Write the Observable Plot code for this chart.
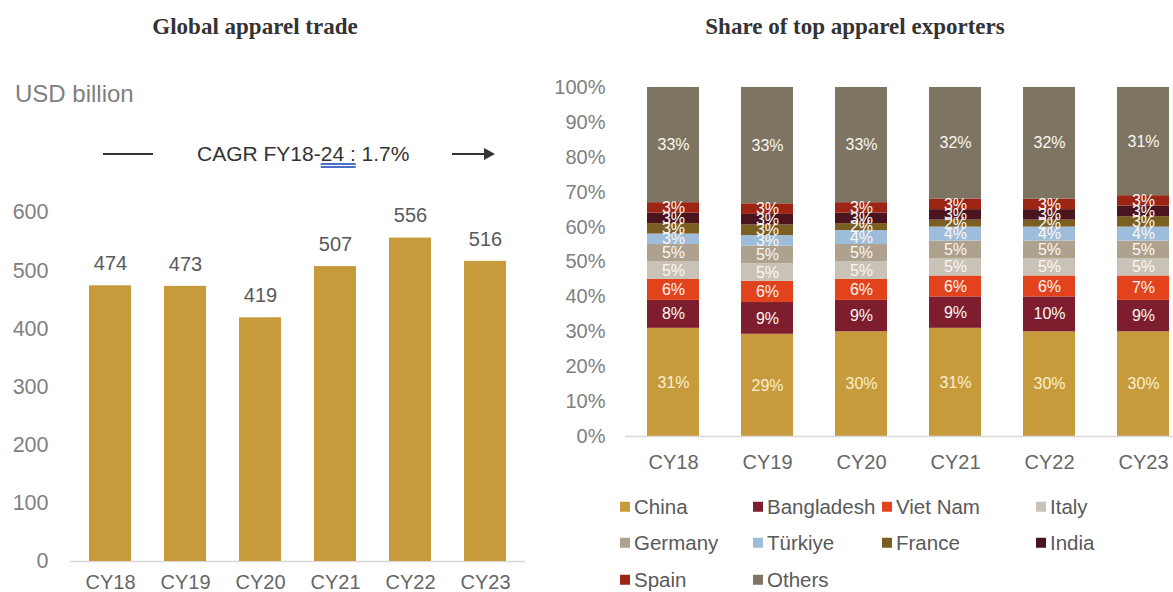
<!DOCTYPE html>
<html>
<head>
<meta charset="utf-8">
<script src="https://cdn.jsdelivr.net/npm/d3@7"></script>
<script src="https://cdn.jsdelivr.net/npm/@observablehq/plot@0.6"></script>
<style>
  html, body { margin: 0; padding: 0; background: #fff; }
  body { width: 1173px; height: 592px; overflow: hidden; position: relative; font-family: "Liberation Sans", Arial, sans-serif; }
  .abs { position: absolute; white-space: nowrap; }
  .title { font-family: "Liberation Serif", "Times New Roman", serif; font-weight: bold; font-size: 23px; color: #333; transform: translateX(-50%); }
  .legend-item { position: absolute; font-size: 20.5px; color: #595959; line-height: 1; transform: translateY(-50%); display: flex; align-items: center; }
  .sw { display: inline-block; width: 10px; height: 10px; margin-right: 4px; }
  #left, #right { position: absolute; top: 0; height: 592px; }
  #left { left: 0; width: 540px; }
  #right { left: 540px; width: 660px; }
  #left svg, #right svg { max-width: none !important; }
</style>
</head>
<body>
<div id="left"></div>
<div id="right"></div>
<div class="abs title" style="left:255px; top:14px;">Global apparel trade</div>
<div class="abs title" style="left:855px; top:14px;">Share of top apparel exporters</div>
<div class="abs" style="left:15px; top:80px; font-size:24px; color:#7f7f7f;">USD billion</div>
<div class="abs" style="left:103px; top:153px; width:50px; height:2px; background:#333;"></div>
<div class="abs" style="left:197px; top:142px; font-size:21px; color:#333;">CAGR FY18-<span style="text-decoration: underline double #4a6fc4;">24 :</span> 1.7%</div>
<div class="abs" style="left:452px; top:153px; width:33px; height:2px; background:#333;"></div>
<div class="abs" style="left:484px; top:148px; width:0; height:0; border-top:6px solid transparent; border-bottom:6px solid transparent; border-left:11px solid #333;"></div>
<div id="legend"></div>
<script>
// ---- Left chart data ----
const years = ["CY18", "CY19", "CY20", "CY21", "CY22", "CY23"];
const tradeValues = [474, 473, 419, 507, 556, 516];
const tradeTicks = [0, 100, 200, 300, 400, 500, 600];

// ---- Right chart data (share %, as labelled) ----
const countries = ["China", "Bangladesh", "Viet Nam", "Italy", "Germany", "Türkiye", "France", "India", "Spain", "Others"];
const china      = [31, 29, 30, 31, 30, 30];
const bangladesh = [8, 9, 9, 9, 10, 9];
const vietNam    = [6, 6, 6, 6, 6, 7];
const italy      = [5, 5, 5, 5, 5, 5];
const germany    = [5, 5, 5, 5, 5, 5];
const turkiye    = [3, 3, 4, 4, 4, 4];
const france     = [3, 3, 2, 2, 2, 3];
const india      = [3, 3, 3, 3, 3, 3];
const spain      = [3, 3, 3, 3, 3, 3];
const others     = [33, 33, 33, 32, 32, 31];
const shareTicks = [0, 0.1, 0.2, 0.3, 0.4, 0.5, 0.6, 0.7, 0.8, 0.9, 1];
const countryColors = ["#C79B3B", "#7E1D2D", "#E2431D", "#C9C2B6", "#AEA18D", "#9DBDDB", "#7B5E21", "#4B1520", "#9C2514", "#7D7461"];

const seriesList = [china, bangladesh, vietNam, italy, germany, turkiye, france, india, spain, others];

// Left chart
const tradeData = years.map((y, i) => ({year: y, value: tradeValues[i]}));
const left = Plot.plot({
  width: 540, height: 592,
  marginLeft: 70, marginRight: 15, marginTop: 212, marginBottom: 31,
  style: {fontFamily: "'Liberation Sans', Arial, sans-serif", background: "transparent", maxWidth: "none"},
  x: {domain: years, paddingInner: 0.446, paddingOuter: 0.224},
  y: {domain: [0, 600]},
  marks: [
    Plot.ruleY([0], {stroke: "#d9d9d9", strokeWidth: 1.5}),
    Plot.barY(tradeData, {x: "year", y: "value", fill: "#C79B3B"}),
    Plot.text(tradeData, {x: "year", y: "value", text: d => String(d.value), dy: -22, fontSize: 20, fill: "#595959"}),
    Plot.axisY(tradeTicks, {tickSize: 0, tickPadding: 22, fontSize: 21.5, color: "#7f7f7f", label: null}),
    Plot.axisX({tickSize: 0, tickPadding: 13, fontSize: 20, color: "#666", label: null})
  ]
});
document.getElementById("left").appendChild(left);

// Right chart
const shareData = [];
years.forEach((y, i) => {
  countries.forEach((c, j) => {
    shareData.push({year: y, country: c, value: seriesList[j][i]});
  });
});

const stackOpts = (extra) => Plot.stackY({offset: "normalize", x: "year", y: "value", ...extra});

const right = Plot.plot({
  width: 660, height: 592,
  marginLeft: 85, marginRight: 9, marginTop: 87, marginBottom: 156,
  style: {fontFamily: "'Liberation Sans', Arial, sans-serif", background: "transparent", maxWidth: "none"},
  x: {domain: years, paddingInner: 0.45, paddingOuter: 0.21},
  y: {domain: [0, 1]},
  color: {domain: countries, range: countryColors},
  marks: [
    Plot.barY(shareData, stackOpts({fill: "country"})),
    Plot.ruleY([0], {stroke: "#d9d9d9", strokeWidth: 1.5}),
    Plot.text(shareData, stackOpts({text: d => d.country === "China" ? "" : d.value + "%", fill: "#fbf7f2", fontSize: 16})),
    Plot.text(shareData, stackOpts({text: d => d.country === "China" ? d.value + "%" : "", fill: "#fbefcf", fontSize: 16})),
    Plot.axisY(shareTicks, {tickSize: 0, tickPadding: 20, fontSize: 20, color: "#7f7f7f", label: null, tickFormat: d3.format(".0%")}),
    Plot.axisX({tickSize: 0, tickPadding: 18, fontSize: 20, color: "#666", label: null})
  ]
});
document.getElementById("right").appendChild(right);

// Legend (HTML)
const legendCols = [620, 753, 882, 1036];
const legendRows = [507, 543, 580];
const legend = document.getElementById("legend");
countries.forEach((c, i) => {
  const row = Math.floor(i / 4), col = i % 4;
  const item = document.createElement("div");
  item.className = "legend-item";
  item.style.left = legendCols[col] + "px";
  item.style.top = legendRows[row] + "px";
  const sw = document.createElement("span");
  sw.className = "sw";
  sw.style.background = countryColors[i];
  const tx = document.createElement("span");
  tx.textContent = c;
  item.appendChild(sw);
  item.appendChild(tx);
  legend.appendChild(item);
});
</script>
</body>
</html>
